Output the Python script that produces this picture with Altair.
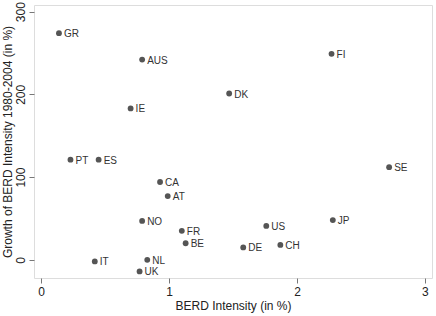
import altair as alt
import pandas as pd

countries = ["GR", "AUS", "IE", "FI", "DK", "PT", "ES", "CA", "AT", "NO",
             "FR", "BE", "IT", "NL", "UK", "SE", "JP", "US", "DE", "CH"]
berd_intensity = [0.14, 0.79, 0.70, 2.27, 1.47, 0.23, 0.45, 0.93, 0.99, 0.79,
                  1.10, 1.13, 0.42, 0.83, 0.77, 2.72, 2.28, 1.76, 1.58, 1.87]
berd_growth = [274, 242, 183, 249, 201, 121, 121, 94, 77, 47,
               35, 20, -2, 0, -14, 112, 48, 41, 15, 18]

x_ticks = [0, 1, 2, 3]
y_ticks = [0, 100, 200, 300]

df = pd.DataFrame({"country": countries, "x": berd_intensity, "y": berd_growth})

FONT = "Liberation Sans"

x_enc = alt.X("x:Q", title="BERD Intensity (in %)",
              scale=alt.Scale(domain=[-0.055, 3.055], nice=False, zero=False),
              axis=alt.Axis(values=x_ticks, format="d", grid=False, domain=False, tickColor="#777",
                            tickSize=5, labelPadding=3, labelFontSize=12, titleFontSize=12,
                            titleFont=FONT, labelFont=FONT, titleFontWeight="normal",
                            labelColor="#222", titleColor="#222", titlePadding=3))
y_enc = alt.Y("y:Q", title="Growth of BERD Intensity 1980-2004 (in %)",
              scale=alt.Scale(domain=[-22, 308], nice=False, zero=False),
              axis=alt.Axis(values=y_ticks, format="d", grid=False, domain=False, tickColor="#777",
                            tickSize=5, labelAngle=-90, labelAlign="center", labelBaseline="bottom",
                            labelPadding=2, labelFontSize=12, titleFontSize=12,
                            titleFont=FONT, labelFont=FONT, titleFontWeight="normal",
                            labelColor="#222", titleColor="#222", titlePadding=0))

points = alt.Chart(df).mark_circle(size=34, color="#555555", opacity=1).encode(x=x_enc, y=y_enc)
labels = alt.Chart(df).mark_text(align="left", baseline="middle", dx=5, dy=1, fontSize=10,
                                 font=FONT, color="#333333").encode(
    x="x:Q", y="y:Q", text="country:N")

chart = (points + labels).properties(
    width=398, height=273,
    autosize=alt.AutoSizeParams(type="none"),
    padding={"left": 34, "top": 5, "right": 4, "bottom": 38},
).configure_view(stroke="#8a8a8a", strokeWidth=2).configure(background="white")

chart.save("out.html", embed_options={"renderer": "svg", "actions": False})
